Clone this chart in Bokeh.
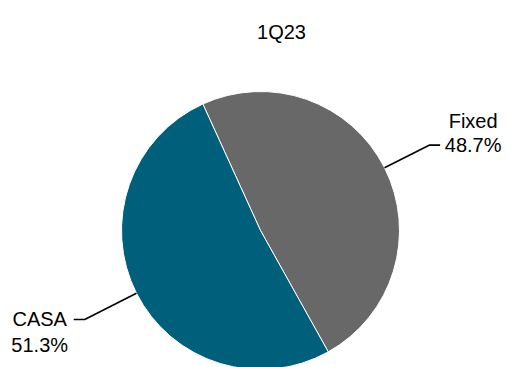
import numpy as np
from bokeh.plotting import figure
from bokeh.models import ColumnDataSource, Range1d
from bokeh.core.properties import value
from bokeh.embed import file_html
from bokeh.resources import INLINE

# ---- data ----
title_text = "1Q23"
categories = ["Fixed", "CASA"]
shares = [48.7, 51.3]
colors = ["#686868", "#005f7a"]

# ---- layout (pixels, y measured downward from top) ----
W, H = 507, 367
cx, cy_px, R = 260, 230, 139
start_deg = 114.5          # boundary angle of first slice (math convention)
leader_len = [50, 58]
elbow_len = [11, 11]
name_dx = [33, -34]
name_dy = [-24, 0]
pct_dy = [0, 26]
FONT = "Liberation Sans"

def yd(py):
    return H - py

p = figure(width=W, height=H, output_backend="svg", toolbar_location=None,
           x_range=Range1d(0, W), y_range=Range1d(0, H), min_border=0)
p.axis.visible = False
p.grid.visible = False
p.outline_line_color = None
p.background_fill_color = "white"
p.border_fill_color = "white"

vals = np.array(shares, dtype=float)
angles = vals / vals.sum() * 2 * np.pi
start0 = np.deg2rad(start_deg)
ends = start0 - np.cumsum(angles)
starts = np.concatenate([[start0], ends[:-1]])
mids = (starts + ends) / 2

src = ColumnDataSource(dict(x=[cx] * len(vals), y=[yd(cy_px)] * len(vals),
                            start=starts, end=ends, color=colors, cat=categories))
p.wedge(x="x", y="y", radius=R, start_angle="start", end_angle="end",
        direction="clock", fill_color="color", line_color="white",
        line_width=1, source=src)

# leader lines + labels
cy = yd(cy_px)
for i, (cat, v) in enumerate(zip(categories, shares)):
    m = mids[i]
    L = leader_len[i]
    x0, y0 = cx + R * np.cos(m), cy + R * np.sin(m)
    x1, y1 = cx + (R + L) * np.cos(m), cy + (R + L) * np.sin(m)
    side = 1 if np.cos(m) >= 0 else -1
    x2 = x1 + side * elbow_len[i]
    p.line([x0, x1, x2], [y0, y1, y1], line_color="black", line_width=1.6)
    tx = x2 + name_dx[i]
    p.text(x=[tx], y=[y1 - name_dy[i]], text=[cat], text_align="center",
           text_baseline="alphabetic", text_font=value(FONT),
           text_font_size="20px", text_color="black")
    p.text(x=[tx], y=[y1 - pct_dy[i]], text=[f"{v:.1f}%"], text_align="center",
           text_baseline="alphabetic", text_font=value(FONT),
           text_font_size="20px", text_color="black")

# title
p.text(x=[281], y=[yd(31)], text=[title_text], text_align="center",
       text_baseline="alphabetic", text_font=value(FONT),
       text_font_size="20px", text_color="black")

open("out.html", "w").write(file_html(p, INLINE))
